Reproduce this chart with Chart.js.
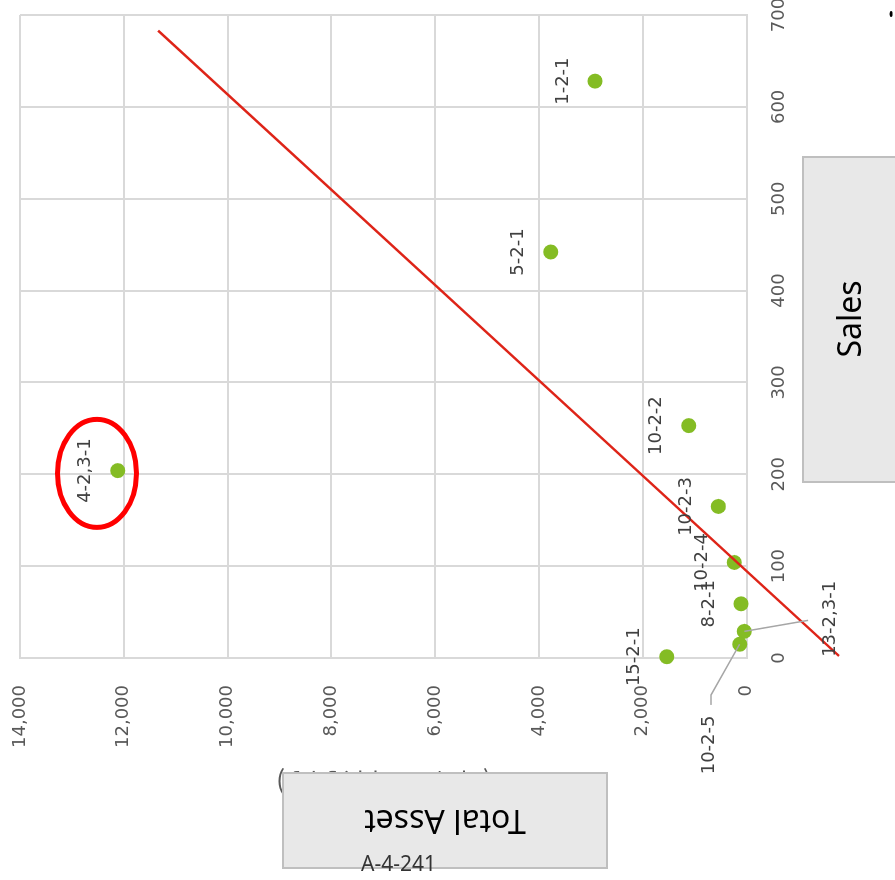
<!DOCTYPE html>
<html>
<head>
<meta charset="utf-8">
<script src="https://cdn.jsdelivr.net/npm/chart.js@4/dist/chart.umd.min.js"></script>
<style>
  html, body { margin: 0; padding: 0; background: #ffffff; overflow: hidden; }
  #page { position: relative; width: 895px; height: 880px; overflow: hidden; background: #fff; }
  /* the chart is laid out with Sales across and Total Asset upward, then turned a quarter turn left */
  #turn { position: absolute; left: 0; top: 0; width: 880px; height: 895px;
          transform-origin: 0 0; transform: translate(0px, 880px) rotate(-90deg); }
  #ref { position: absolute; left: 361px; top: 853px; font: 21px/21px "Noto Sans", sans-serif;
         color: #333333; white-space: nowrap; z-index: 2; }
</style>
</head>
<body>
<div id="page">
  <div id="turn"><canvas id="c" width="880" height="895"></canvas></div>
  <div id="ref">A-4-241</div>
</div>
<script>
// ---- data ----
const pointNames = ['1-2-1', '5-2-1', '4-2,3-1', '10-2-2', '10-2-3', '10-2-4', '8-2-1', '13-2,3-1', '10-2-5', '15-2-1'];
const salesValues = [628, 442, 204, 253, 165, 104, 59, 29, 15, 1.4];
const totalAssetValues = [2919, 3773, 12116, 1114, 543, 235, 106, 42, 131, 1538];

// straight guide line drawn across the scatter (Sales, Total Asset endpoints)
const trendSales = [2.2, 683];
const trendAsset = [-1782, 11339];

// axis ticks
const salesTicks = [0, 100, 200, 300, 400, 500, 600, 700];
const assetTicks = [0, 2000, 4000, 6000, 8000, 10000, 12000, 14000];

// highlighted outlier ring (centre and radii in data units)
const ringCenter = [201, 12516];
const ringRadius = [58.8, 761];

// ---- label placement (pixel offsets from each marker) ----
const defaultNudge = { dx: 0, dy: -32 };
const labelNudge = {
  '13-2,3-1': { dx: 12.5, dy: 85.7, leader: [[-1.5, -22]] },
  '10-2-5':   { dx: -100.7, dy: -30.7, leader: [[50, 2], [40, 2]] }
};

const points = salesValues.map((s, i) => ({ x: s, y: totalAssetValues[i] }));
const trendPoints = trendSales.map((s, i) => ({ x: s, y: trendAsset[i] }));

const fmt = v => v.toLocaleString('en-US');

const extras = {
  id: 'extras',
  afterDatasetsDraw(chart) {
    const ctx = chart.ctx;
    const meta = chart.getDatasetMeta(0);
    ctx.save();
    ctx.font = '18px "DejaVu Sans"';
    ctx.fillStyle = '#404040';
    ctx.textAlign = 'center';
    ctx.textBaseline = 'middle';
    meta.data.forEach((pt, i) => {
      const name = pointNames[i];
      const n = labelNudge[name] || defaultNudge;
      const lx = pt.x + n.dx, ly = pt.y + n.dy;
      if (n.leader) {
        ctx.beginPath();
        ctx.strokeStyle = '#a6a6a6';
        ctx.lineWidth = 1.5;
        ctx.moveTo(pt.x, pt.y);
        n.leader.forEach(([ox, oy]) => ctx.lineTo(lx + ox, ly + oy));
        ctx.stroke();
      }
      ctx.fillText(name, lx, ly);
    });
    ctx.restore();
  },
  afterDraw(chart) {
    const ctx = chart.ctx;
    const xs = chart.scales.x, ys = chart.scales.y;
    ctx.save();

    // red ring around the outlier
    const cx = xs.getPixelForValue(ringCenter[0]);
    const cy = ys.getPixelForValue(ringCenter[1]);
    const rx = Math.abs(xs.getPixelForValue(ringCenter[0] + ringRadius[0]) - cx);
    const ry = Math.abs(ys.getPixelForValue(ringCenter[1] + ringRadius[1]) - cy);
    ctx.beginPath();
    ctx.ellipse(cx, cy, rx, ry, 0, 0, Math.PI * 2);
    ctx.strokeStyle = '#ff0000';
    ctx.lineWidth = 5;
    ctx.stroke();

    // unit note under the Total Asset caption
    ctx.save();
    ctx.translate(97.5, 381);
    ctx.rotate(-Math.PI / 2);
    ctx.font = '26px "Noto Sans CJK JP"';
    ctx.letterSpacing = '6px';
    ctx.fillStyle = '#595959';
    ctx.textAlign = 'center';
    ctx.textBaseline = 'middle';
    ctx.fillText('(単位：百万円)', 0, 0);
    ctx.letterSpacing = '0px';
    ctx.restore();

    // caption boxes
    const box = (x, y, w, h) => {
      ctx.fillStyle = '#e8e8e8';
      ctx.fillRect(x, y, w, h);
      ctx.strokeStyle = '#bfbfbf';
      ctx.lineWidth = 2;
      ctx.strokeRect(x, y, w, h);
    };
    box(398, 803, 325, 110);
    ctx.font = '32px "Noto Sans"';
    ctx.fillStyle = '#000000';
    ctx.textAlign = 'center';
    ctx.textBaseline = 'middle';
    ctx.fillText('Sales', 561, 852);

    box(12, 283, 95, 324);
    ctx.save();
    ctx.translate(61, 445);
    ctx.rotate(-Math.PI / 2);
    ctx.fillStyle = '#000000';
    ctx.fillText('Total Asset', 0, 0);
    ctx.restore();

    // small mark in the corner
    ctx.beginPath();
    ctx.ellipse(866, 891, 3, 1.6, 0, 0, Math.PI * 2);
    ctx.fillStyle = '#000000';
    ctx.fill();

    ctx.restore();
  }
};

new Chart(document.getElementById('c'), {
  type: 'scatter',
  data: {
    datasets: [
      {
        label: 'Sales vs Total Asset',
        data: points,
        backgroundColor: '#84bc24',
        borderWidth: 0,
        pointRadius: 7.5,
        pointHoverRadius: 7.5,
        clip: false,
        order: 2
      },
      {
        type: 'line',
        label: 'guide',
        data: trendPoints,
        borderColor: '#de2418',
        borderWidth: 2.5,
        pointRadius: 0,
        fill: false,
        tension: 0,
        clip: false,
        order: 1
      }
    ]
  },
  options: {
    responsive: false,
    animation: false,
    devicePixelRatio: 1,
    layout: { padding: { top: 20, right: 15, left: 0, bottom: 0 } },
    plugins: { legend: { display: false }, tooltip: { enabled: false } },
    scales: {
      x: {
        type: 'linear',
        min: 0, max: 700,
        afterBuildTicks: s => { s.ticks = salesTicks.map(v => ({ value: v })); },
        afterFit: s => { s.height = 148.5; s.paddingLeft = 0; s.paddingRight = 0; },
        grid: { color: '#d9d9d9', lineWidth: 2, drawTicks: false },
        border: { color: '#d9d9d9', width: 2 },
        ticks: { font: { family: 'DejaVu Sans', size: 18 }, color: '#595959', padding: 22, maxRotation: 0 }
      },
      y: {
        type: 'linear',
        min: 0, max: 14000,
        afterBuildTicks: s => { s.ticks = assetTicks.map(v => ({ value: v })); },
        afterFit: s => { s.width = 222; s.paddingTop = 0; s.paddingBottom = 0; },
        grid: { color: '#d9d9d9', lineWidth: 2, drawTicks: false },
        border: { color: '#d9d9d9', width: 2 },
        ticks: { font: { family: 'DejaVu Sans', size: 18 }, color: '#595959', padding: 27, callback: v => fmt(v) }
      }
    }
  },
  plugins: [extras]
});
</script>
</body>
</html>
